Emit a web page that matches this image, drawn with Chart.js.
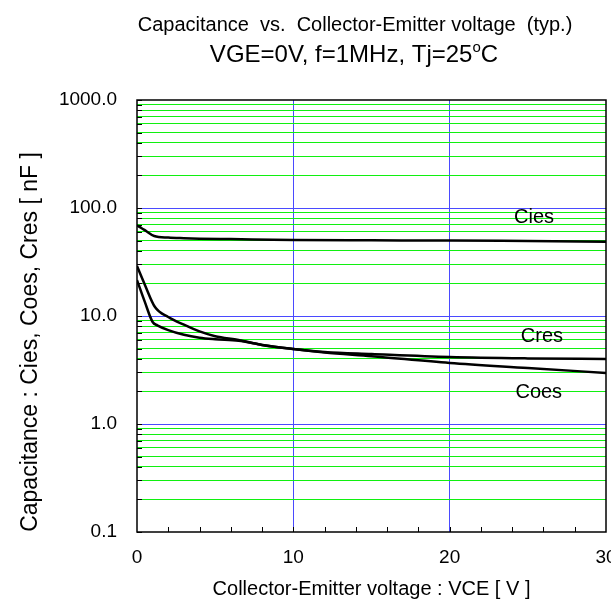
<!DOCTYPE html>
<html>
<head>
<meta charset="utf-8">
<script src="https://cdn.jsdelivr.net/npm/chart.js@4.4.1/dist/chart.umd.min.js"></script>
<style>
  html, body { margin: 0; padding: 0; background: #fff; }
  #wrap { width: 611px; height: 599px; }
</style>
</head>
<body>
<div id="wrap"><canvas id="capChart" width="611" height="599"></canvas></div>
<script>
// values
var ciesX = [0, 0.3, 0.6, 1.1, 2, 3, 4, 6, 10, 15, 20, 25, 30];
var ciesY = [69, 65, 61, 55, 53.2, 52.5, 52, 51.5, 50.5, 50.2, 50, 49.4, 48.8];

var cresX = [0, 0.5, 1.15, 2, 3, 4, 5, 6.5, 8, 10, 12, 15, 20, 25, 30];
var cresY = [29, 19.5, 12.1, 9.8, 8.3, 7.2, 6.5, 6.0, 5.4, 4.95, 4.65, 4.45, 4.17, 4.05, 4.0];

var coesX = [0, 0.5, 1, 1.3, 2, 3, 4, 5, 6.5, 8, 10, 12, 15, 20, 25, 30];
var coesY = [21.5, 13.5, 8.8, 8.2, 7.4, 6.7, 6.3, 6.1, 5.9, 5.4, 4.95, 4.6, 4.25, 3.67, 3.3, 2.97];

var yTicks = [0.1, 0.2, 0.3, 0.4, 0.5, 0.6, 0.7, 0.8, 0.9,
              1, 2, 3, 4, 5, 6, 7, 8, 9,
              10, 20, 30, 40, 50, 60, 70, 80, 90,
              100, 200, 300, 400, 500, 600, 700, 800, 900, 1000];
var yMajor = [0.1, 1, 10, 100, 1000];
var xLabels = [0, 10, 20, 30];

function pairs(xs, ys) {
  return xs.map(function(x, i) { return {x: x, y: ys[i]}; });
}

var FONT = "Arial, 'Liberation Sans', sans-serif";

var extras = {
  id: 'extras',
  afterDraw: function(chart) {
    var ctx = chart.ctx;
    var a = chart.chartArea;
    var xs = chart.scales.x, ys = chart.scales.y;
    ctx.save();

    // small inside ticks
    ctx.strokeStyle = '#000';
    ctx.lineWidth = 1;
    yTicks.forEach(function(v) {
      var p = Math.round(ys.getPixelForValue(v)) + 0.5;
      ctx.beginPath(); ctx.moveTo(a.left, p); ctx.lineTo(a.left + 5, p); ctx.stroke();
    });
    for (var v = 2; v < 30; v += 2) {
      var px = Math.round(xs.getPixelForValue(v)) + 0.5;
      ctx.beginPath(); ctx.moveTo(px, a.bottom); ctx.lineTo(px, a.bottom - 5); ctx.stroke();
    }

    // frame
    ctx.lineWidth = 1.5;
    ctx.strokeRect(a.left, a.top, a.right - a.left, a.bottom - a.top);

    ctx.fillStyle = '#000';
    ctx.textBaseline = 'alphabetic';

    // titles
    ctx.textAlign = 'center';
    ctx.font = '20px ' + FONT;
    ctx.fillText('Capacitance  vs.  Collector-Emitter voltage  (typ.)', 355, 31);

    var t1 = 'VGE=0V, f=1MHz, Tj=25', t2 = 'C';
    ctx.font = '24px ' + FONT;
    var w1 = ctx.measureText(t1).width, w3 = ctx.measureText(t2).width;
    ctx.font = '15px ' + FONT;
    var w2 = ctx.measureText('o').width;
    var sx = 354 - (w1 + w2 + w3) / 2;
    ctx.textAlign = 'left';
    ctx.font = '24px ' + FONT;
    ctx.fillText(t1, sx, 62);
    ctx.font = '15px ' + FONT;
    ctx.fillText('o', sx + w1, 52);
    ctx.font = '24px ' + FONT;
    ctx.fillText(t2, sx + w1 + w2, 62);

    // axis titles
    ctx.textAlign = 'center';
    ctx.font = '20px ' + FONT;
    ctx.fillText('Collector-Emitter voltage : VCE [ V ]', (a.left + a.right) / 2, 595);
    ctx.save();
    ctx.translate(37, 342);
    ctx.rotate(-Math.PI / 2);
    ctx.font = '23px ' + FONT;
    ctx.fillText('Capacitance : Cies, Coes, Cres [ nF ]', 0, 0);
    ctx.restore();

    // curve labels
    ctx.font = '20px ' + FONT;
    ctx.textBaseline = 'middle';
    ctx.fillText('Cies', xs.getPixelForValue(25.4), ys.getPixelForValue(81));
    ctx.fillText('Cres', xs.getPixelForValue(25.9), ys.getPixelForValue(6.4));
    ctx.fillText('Coes', xs.getPixelForValue(25.7), ys.getPixelForValue(1.94));
    ctx.restore();
  }
};

function lineSet(label, xs, ys) {
  return {
    label: label,
    data: pairs(xs, ys),
    borderColor: '#000',
    borderWidth: 2.5,
    pointRadius: 0,
    fill: false,
    cubicInterpolationMode: 'monotone'
  };
}

var ctx = document.getElementById('capChart').getContext('2d');
var capChart = new Chart(ctx, {
  type: 'line',
  data: {
    datasets: [
      lineSet('Cies', ciesX, ciesY),
      lineSet('Cres', cresX, cresY),
      lineSet('Coes', coesX, coesY)
    ]
  },
  options: {
    responsive: false,
    animation: false,
    devicePixelRatio: 1,
    layout: { padding: { left: 0, right: 5, top: 100, bottom: 0 } },
    plugins: {
      legend: { display: false },
      tooltip: { enabled: false }
    },
    scales: {
      x: {
        type: 'linear',
        min: 0,
        max: 30,
        afterBuildTicks: function(scale) {
          scale.ticks = xLabels.map(function(v) { return {value: v}; });
        },
        afterFit: function(scale) {
          scale.height = 67;
          scale.paddingLeft = 0;
          scale.paddingRight = 0;
        },
        ticks: {
          color: '#000',
          font: { family: FONT, size: 19 },
          padding: 14,
          maxRotation: 0,
          autoSkip: false
        },
        border: { display: false },
        grid: {
          drawTicks: false,
          color: function(c) {
            var v = c.tick && c.tick.value;
            return (v === 10 || v === 20) ? '#4a4aff' : 'rgba(0,0,0,0)';
          }
        }
      },
      y: {
        type: 'logarithmic',
        min: 0.1,
        max: 1000,
        afterBuildTicks: function(scale) {
          scale.ticks = yTicks.map(function(v) { return {value: v}; });
        },
        afterFit: function(scale) {
          scale.width = 137;
          scale.paddingTop = 0;
          scale.paddingBottom = 0;
        },
        ticks: {
          color: '#000',
          font: { family: FONT, size: 19 },
          padding: 20,
          autoSkip: false,
          callback: function(v) {
            return yMajor.indexOf(v) >= 0 ? v.toFixed(1) : '';
          }
        },
        border: { display: false },
        grid: {
          drawTicks: false,
          color: function(c) {
            var v = c.tick && c.tick.value;
            if (v === 0.1 || v === 1000) return 'rgba(0,0,0,0)';
            return yMajor.indexOf(v) >= 0 ? '#4a4aff' : '#10f010';
          }
        }
      }
    }
  },
  plugins: [extras]
});
</script>
</body>
</html>
